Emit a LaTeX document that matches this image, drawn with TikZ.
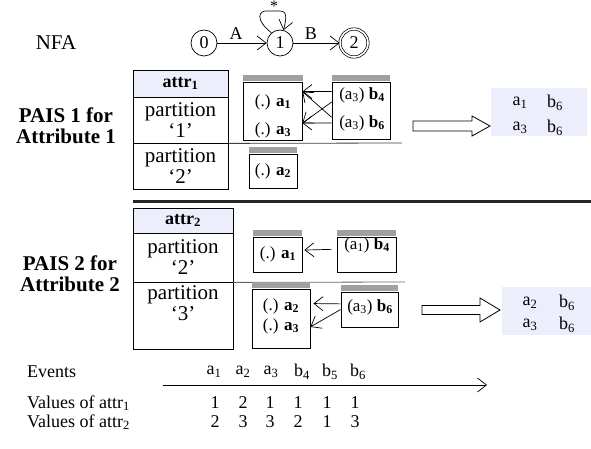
\documentclass[tikz,border=0pt]{standalone}
\usepackage{fontspec}
\setmainfont{Liberation Serif}
\usetikzlibrary{arrows.meta}
\definecolor{hdr}{RGB}{236,238,252}
\definecolor{res}{RGB}{236,238,252}
\definecolor{barc}{RGB}{160,160,160}
\newcommand\fs[1]{\fontsize{#1}{#1}\selectfont}
\newcommand\sbx[1]{\textsubscript{#1}}
\begin{document}
\begin{tikzpicture}[x=1pt,y=-1pt,
  arr/.style={-{Straight Barb[length=9pt,width=14pt]}, line width=0.7pt},
  cell/.style={draw, line width=0.8pt, inner sep=0pt, align=center},
  ebox/.style={draw, line width=0.8pt, inner sep=0pt},
  gbar/.style={fill=barc, inner sep=0pt, minimum height=6pt, anchor=south},
  state/.style={circle, draw, line width=0.7pt, minimum size=26pt, inner sep=0pt, font=\fs{18}},
  txt/.style={inner sep=0pt, font=\fs{18}},
  btxt/.style={inner sep=0pt, font=\fs{17}},
  lbl/.style={inner sep=0pt, font=\fs{21}\bfseries, align=center},
  fat/.style={draw, line width=0.8pt},
  resbox/.style={fill=res, inner sep=0pt},
]
\useasboundingbox (0,0) rectangle (591,449);

% NFA
\node[txt, font=\fs{21}] (nfa) at (56,43) {NFA};
\node[state] (s0) at (204,43) {0};
\node[state] (s1) at (280,43) {1};
\node[state, minimum size=28pt, double, double distance=1.6pt] (s2) at (354,43) {2};
\draw[arr] (s0) -- node[txt, pos=0.38, above=3pt] (lA) {A} (s1);
\draw[arr] (s1) -- node[txt, pos=0.38, above=3pt] (lB) {B} (s2);
\draw[arr] (s1.130) .. controls (255,20) and (258,10) .. (268,11)
  -- (280,11) .. controls (288,11) and (286,20) .. (s1.75);
\node[inner sep=0pt, font=\fs{16}] (star) at (274,6) {*};

% PAIS 1
\node[lbl] (pais1) at (66,126) {PAIS 1 for\\Attribute 1};
\node[cell, fill=hdr, minimum width=95pt, minimum height=27pt, font=\fs{18}\bfseries] (h1) at (180.5,83.5) {attr\sbx{1}};
\node[cell, minimum width=95pt, minimum height=46pt, font=\fs{21}] (p11) at (180.5,120) {partition\\`1'};
\node[cell, minimum width=95pt, minimum height=46pt, font=\fs{21}] (p12) at (180.5,166) {partition\\`2'};
\coordinate (sep1) at (402,143);
\draw[line width=0.8pt, black!75] (p11.south east) -- (sep1);

\node[ebox, minimum width=59pt, minimum height=58pt] (B1) at (272.5,111) {};
\node[gbar, minimum width=60pt] (g1) at (B1.north) {};
\node[btxt] (ta1) at (273,102) {(.) \textbf{a\sbx{1}}};
\node[btxt] (ta3) at (273,130) {(.) \textbf{a\sbx{3}}};

\node[ebox, minimum width=48pt, minimum height=34pt] (B0) at (273,171) {};
\node[gbar, minimum width=48pt] (g0) at (B0.north) {};
\node[btxt] (ta2) at (273,171) {(.) \textbf{a\sbx{2}}};

\node[ebox, minimum width=58pt, minimum height=57pt] (B2) at (361,110.5) {};
\node[gbar, minimum width=58pt] (g2) at (B2.north) {};
\node[btxt] (tb4) at (362,95) {(a\sbx{3}) \textbf{b\sbx{4}}};
\node[btxt] (tb6) at (362,123) {(a\sbx{3}) \textbf{b\sbx{6}}};

\draw[arr] (B2.147) -- (B1.33);
\draw[arr] (B2.164) -- (B1.338);
\draw[arr] (B2.193) -- (B1.33);
\draw[arr] (B2.203) -- (B1.338);

\draw[fat] (413,121) -- (472,121) -- (472,116) -- (490,126) -- (472,136) -- (472,131) -- (413,131) -- cycle;
\node[resbox, minimum width=96pt, minimum height=48pt] (R1) at (539,112) {};
\node[txt] (r1a) at (520,103) {a\sbx{1}};
\node[txt] (r1b) at (555,103) {b\sbx{6}};
\node[txt] (r1c) at (520,128) {a\sbx{3}};
\node[txt] (r1d) at (555,128) {b\sbx{6}};

% separator
\coordinate (hl0) at (133,201);
\coordinate (hl1) at (591,201);
\draw[line width=3pt, black!85] (hl0) -- (hl1);

% PAIS 2
\node[lbl] (pais2) at (70,274) {PAIS 2 for\\Attribute 2};
\node[cell, fill=hdr, minimum width=100pt, minimum height=25pt, font=\fs{18}\bfseries] (h2) at (183,220.5) {attr\sbx{2}};
\node[cell, minimum width=100pt, minimum height=49pt, font=\fs{21}] (p22) at (183,257.5) {partition\\`2'};
\node[cell, minimum width=100pt, minimum height=67pt, font=\fs{21}] (p23) at (183,315.5) {partition\\`3'\\[4pt]};
\coordinate (sep2) at (405,282);
\draw[line width=0.8pt, black!60] (p22.south east) -- (sep2);

\node[ebox, minimum width=49pt, minimum height=35pt] (C1) at (277.5,254.5) {};
\node[gbar, minimum width=49pt] (gc1) at (C1.north) {};
\node[btxt] (tc1) at (278,254) {(.) \textbf{a\sbx{1}}};

\node[ebox, minimum width=59pt, minimum height=35pt] (C2) at (366.5,254.5) {};
\node[gbar, minimum width=59pt] (gc2) at (C2.north) {};
\node[btxt] (tc2) at (367,245) {(a\sbx{1}) \textbf{b\sbx{4}}};
\draw[arr, shorten <=5pt, shorten >=2pt] (C2.170) -- (C1.10);

\node[ebox, minimum width=58pt, minimum height=59pt] (C3) at (281,318.5) {};
\node[gbar, minimum width=58pt] (gc3) at (C3.north) {};
\node[btxt] (tc3a) at (281,306) {(.) \textbf{a\sbx{2}}};
\node[btxt] (tc3b) at (281,326) {(.) \textbf{a\sbx{3}}};

\node[ebox, minimum width=57pt, minimum height=35pt] (C4) at (369.5,309.5) {};
\node[gbar, minimum width=57pt] (gc4) at (C4.north) {};
\node[btxt] (tc4) at (370,307) {(a\sbx{3}) \textbf{b\sbx{6}}};
\draw[arr, shorten >=3pt] (C4.169) -- (C3.27);
\draw[arr] (C4.west) -- (C3.344);

\draw[fat] (422,305.5) -- (480,305.5) -- (480,298) -- (500,310) -- (480,322) -- (480,314.5) -- (422,314.5) -- cycle;
\node[resbox, minimum width=89pt, minimum height=48pt] (R2) at (546.5,311) {};
\node[txt] (r2a) at (530,303) {a\sbx{2}};
\node[txt] (r2b) at (567,303) {b\sbx{6}};
\node[txt] (r2c) at (530,325) {a\sbx{3}};
\node[txt] (r2d) at (567,325) {b\sbx{6}};

% timeline
\node[txt, anchor=west] (ev) at (27,372) {Events};
\node[txt, anchor=west] (va1) at (27,403) {Values of attr\sbx{1}};
\node[txt, anchor=west] (va2) at (27,422) {Values of attr\sbx{2}};
\coordinate (t0) at (163,385);
\coordinate (t1) at (487,385);
\draw[arr] (t0) -- (t1);
\node[txt] (e1) at (214,372) {a\sbx{1}};
\node[txt] (e2) at (243,372) {a\sbx{2}};
\node[txt] (e3) at (271,372) {a\sbx{3}};
\node[txt] (e4) at (302,372) {b\sbx{4}};
\node[txt] (e5) at (330,372) {b\sbx{5}};
\node[txt] (e6) at (358,372) {b\sbx{6}};
\node[txt] (v11) at (215,403) {1};
\node[txt] (v12) at (243,403) {2};
\node[txt] (v13) at (270,403) {1};
\node[txt] (v14) at (298,403) {1};
\node[txt] (v15) at (327,403) {1};
\node[txt] (v16) at (355,403) {1};
\node[txt] (v21) at (215,422) {2};
\node[txt] (v22) at (243,422) {3};
\node[txt] (v23) at (270,422) {3};
\node[txt] (v24) at (298,422) {2};
\node[txt] (v25) at (327,422) {1};
\node[txt] (v26) at (355,422) {3};
\end{tikzpicture}
\end{document}
